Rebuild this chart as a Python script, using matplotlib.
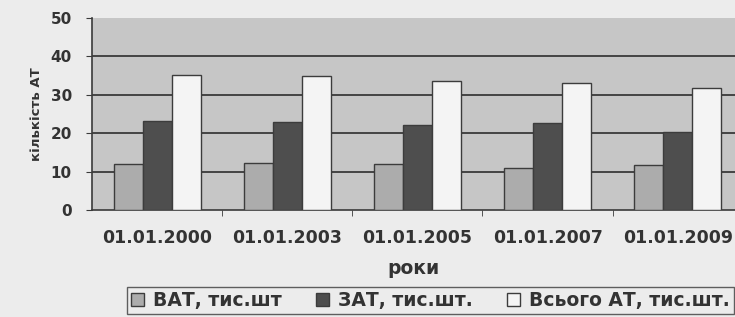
import numpy as np
import matplotlib
matplotlib.use("Agg")
from matplotlib import pyplot as plt

# дані з діаграми (тис. шт.)
dates = ["01.01.2000", "01.01.2003", "01.01.2005", "01.01.2007", "01.01.2009"]
vat = [12.0, 12.2, 12.0, 10.9, 11.7]
zat = [23.3, 23.0, 22.1, 22.7, 20.4]
total = [35.2, 34.9, 33.7, 33.2, 31.7]
series_names = ["ВАТ, тис.шт", "ЗАТ, тис.шт.", "Всього АТ, тис.шт."]

plt.rcParams['font.family'] = ['DejaVu Sans']
txt = '#333333'

fig = plt.figure(figsize=(7.35, 3.17), dpi=100)
fig.patch.set_facecolor('#ececec')
ax = fig.add_axes([92/735, 1-210/317, 1-92/735, 192/317])
ax.set_facecolor('#c6c6c6')

x = np.arange(len(dates))
w = 0.223
ax.bar(x - w, vat, w, color='#acacac', edgecolor='#3c3c3c', linewidth=1, zorder=3, label=series_names[0])
ax.bar(x, zat, w, color='#4e4e4e', edgecolor='#3c3c3c', linewidth=1, zorder=3, label=series_names[1])
ax.bar(x + w, total, w, color='#f4f4f4', edgecolor='#3c3c3c', linewidth=1, zorder=3, label=series_names[2])

ax.set_xlim(-0.5, 4.44)
ax.set_ylim(0, 50)
ax.set_yticks([0, 10, 20, 30, 40, 50])
for v in [10, 20, 30, 40]:
    ax.axhline(v, color='#3a3a3a', linewidth=1.3, zorder=1)

for s in ['top', 'right']:
    ax.spines[s].set_visible(False)
ax.spines['left'].set_color('#3a3a3a')
ax.spines['bottom'].set_color('#3a3a3a')
ax.spines['left'].set_linewidth(1.2)
ax.spines['bottom'].set_linewidth(1.2)

ax.set_xticks(x)
ax.set_xticklabels(dates)
ax.set_xticks(np.arange(0.5, 4.5, 1), minor=True)
ax.tick_params(axis='x', which='major', length=0, pad=14, labelsize=12.5, labelcolor=txt)
ax.tick_params(axis='x', which='minor', length=4, color='#3a3a3a')
ax.tick_params(axis='y', length=4.5, pad=10, labelsize=11, labelcolor=txt, color='#3a3a3a')
for lab in ax.get_xticklabels() + ax.get_yticklabels():
    lab.set_fontweight('bold')

ax.set_xlabel("роки", fontsize=13.5, fontweight='bold', color=txt, labelpad=8)
fig.text(37/735, 1-114/317, "кількість АТ", rotation=90, ha='center', va='center',
         fontsize=9.5, fontweight='bold', color=txt)

leg = fig.legend(loc='upper left', bbox_to_anchor=(127/735, 1-287/317), ncol=3,
                 fontsize=13.5, frameon=True, fancybox=False, handlelength=0.7, handleheight=0.7,
                 handletextpad=0.5, columnspacing=1.8, borderpad=0.2, borderaxespad=0)
leg.get_frame().set_edgecolor('#3a3a3a')
leg.get_frame().set_facecolor('#ececec')
for t in leg.get_texts():
    t.set_fontweight('bold')
    t.set_color(txt)

fig.savefig("out.png", dpi=100, facecolor=fig.get_facecolor())
